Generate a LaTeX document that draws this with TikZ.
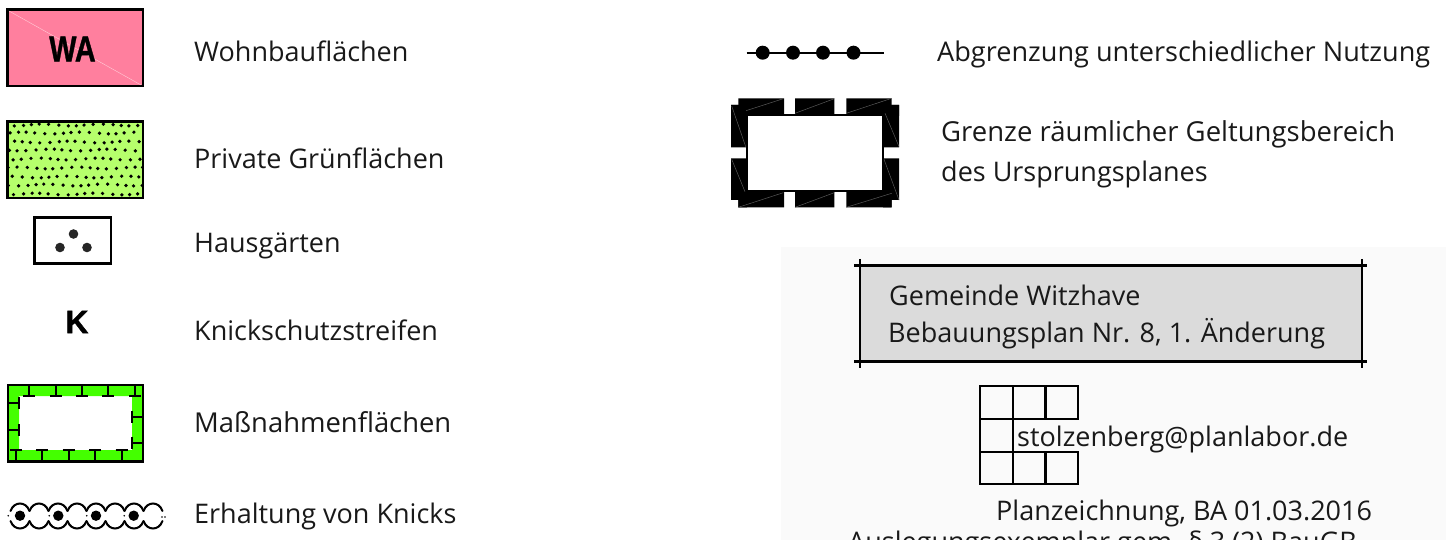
\documentclass[tikz,border=0pt]{standalone}
\usepackage{fontspec}
\setmainfont{Open Sans}
\newfontfamily\heavy{Liberation Sans}[BoldFont={* Bold},FakeBold=1.2]
\definecolor{wapink}{HTML}{FF7F9E}
\definecolor{pgreen}{HTML}{B6FF6C}
\definecolor{mgreen}{HTML}{44FF00}
\definecolor{panel}{HTML}{FAFAFA}
\definecolor{boxgray}{HTML}{DBDBDB}
\tikzset{
 lab/.style={anchor=base west,inner sep=0pt,font=\fontsize{27}{32}\selectfont,text=black!90},
 frame/.style={draw=black,line width=2.4pt},
 tickline/.style={draw=black,line width=2pt},
 seam/.style={draw=black!65,line width=0.5pt},
 blk/.style={fill=black,draw=none},
 logogrid/.style={draw=black,line width=2.2pt},
 mark letter/.style={inner sep=0pt,xscale=0.8,font=\heavy\bfseries\fontsize{36}{36}\selectfont}
}
\begin{document}
\begin{tikzpicture}[x=1pt,y=-1pt]
\useasboundingbox (0,0) rectangle (1446,540);
\clip (0,0) rectangle (1446,540);
% panel
\fill[panel] (781,247) rectangle (1446,540);
% WA
\path[frame,fill=wapink] (7.5,9.5) rectangle (143,86);
\draw[white!60!wapink,line width=0.4pt] (9,11) -- (141,85);
\node[mark letter] (wa) at (72.5,49) {WA};
% Green dotted
\fill[pgreen] (7.5,121.5) rectangle (143,198);
\begin{scope}
\clip (7.5,121.5) rectangle (143,198);
\foreach \r [count=\i] in {125,133,142,150,159,168,177,185,194}{
  \foreach \k in {0,...,15}{
    \pgfmathsetmacro{\xx}{9+\k*8.95+mod(\i,2)*4.5+1.2*sin(\k*70+\i*40)}
    \pgfmathsetmacro{\yy}{\r+0.9*sin(\k*55+\i*95)}
    \fill (\xx,\yy) circle (1.85);
  }
}
\end{scope}
\draw[frame] (7.5,121.5) rectangle (143,198);
% Hausgaerten
\draw[draw=black,line width=2.2pt] (34.5,217.5) rectangle (111,263.5);
\fill[black!85] (60,247.5) circle (4.8) (73.5,234) circle (4.8) (87,247.5) circle (4.8);
% K
\node[mark letter,xscale=1.1,yscale=0.9] (k) at (77,322) {K};
% Massnahmen
\fill[mgreen,even odd rule] (8,385) rectangle (143,461.5) (19,396) rectangle (132,450);
\draw[frame] (8,385) rectangle (143,461.5);
\foreach \x in {29,56,82,108,135}{
  \draw[tickline] (\x,385) -- (\x,396) (\x-6,396) -- (\x+6,396);}
\foreach \x in {15.7,42,68.7,95,121.7}{
  \draw[tickline] (\x,461) -- (\x,450) (\x-6,450) -- (\x+6,450);}
\foreach \y in {403,430}{
  \draw[tickline] (8,\y) -- (19,\y) (19,\y-6) -- (19,\y+6);}
\foreach \y in {416.7,442.7}{
  \draw[tickline] (143,\y) -- (132,\y) (132,\y-6) -- (132,\y+6);}
% Knick
\foreach \x in {20,39,58,77,96,115,134,153}{
  \draw[line width=2pt,line cap=round] (\x-9.5,511) .. controls (\x-6,501) and (\x+6,501) .. (\x+9.5,511);
  \draw[line width=2pt,line cap=round] (\x-9.5,521) .. controls (\x-6,531) and (\x+6,531) .. (\x+9.5,521);
}
\fill (20,515.7) circle (5.2) (58.3,515.7) circle (5.2) (96,515.7) circle (5.2) (133.7,515.7) circle (5.2);
\fill (8.3,515.7) circle (0.9) (49.3,515.7) circle (0.9) (86.7,515.7) circle (0.9) (124.3,515.7) circle (0.9) (162,517) circle (0.9) (165,517) circle (0.9);
% left labels
\node[lab] (l1) at (194,62) {Wohnbauflächen};
\node[lab] (l2) at (194,169) {Private Grünflächen};
\node[lab] (l3) at (194,252) {Hausgärten};
\node[lab] (l4) at (194,340) {Knickschutzstreifen};
\node[lab,font=\fontsize{27.4}{32}\selectfont] (l5) at (194,432) {Maßnahmenflächen};
\node[lab] (l6) at (194,523) {Erhaltung von Knicks};
% dotted line
\draw[line width=2pt] (746.7,52.7) -- (884,52.7);
\fill (762.7,52.7) circle (7) (793,52.7) circle (7) (823,52.7) circle (7) (853.5,52.7) circle (7);
% boundary
\fill[blk] (738.3,98.3) rectangle (784,114) (795,98.3) rectangle (834.3,114) (846.3,98.3) rectangle (891.7,114);
\fill[blk] (738.3,192) rectangle (784,207.3) (795,192) rectangle (834.3,207.3) (846.3,192) rectangle (891.7,207.3);
\fill[blk] (731,105) rectangle (746,147.3) (731,158.3) rectangle (746,200);
\fill[blk] (883.3,105) rectangle (899,147.3) (883.3,158.3) rectangle (899,200);
\fill[blk] (731,105) rectangle (746.5,116) (883,105) rectangle (899,116);
\fill[blk] (738.3,190) rectangle (747,207.3) (883,190) rectangle (891.7,207.3);
\draw[draw=black,line width=2pt] (747,115) rectangle (882.7,191.5);
\draw[seam] (746,110.7) -- (783.3,98.7) (795,113.3) -- (834.3,98.7) (846.3,113.3) -- (891.7,98.3);
\draw[seam] (738.3,207.3) -- (783.3,192.7) (795,207.3) -- (834.3,192.7) (846.3,207.3) -- (891.7,193.3);
\draw[seam] (731.7,106) -- (745.7,146.7) (731.7,159.3) -- (745,191.7);
\draw[seam] (885,113.3) -- (899,146.7) (884,159.3) -- (899,200);
\node[lab,font=\fontsize{27.1}{32}\selectfont] (r1) at (937,62) {Abgrenzung unterschiedlicher Nutzung};
\node[lab,font=\fontsize{27.5}{32}\selectfont] (r2) at (941,142) {Grenze räumlicher Geltungsbereich};
\node[lab] (r3) at (941,182) {des Ursprungsplanes};
% title box
\fill[boxgray] (860,265.5) rectangle (1362,361.5);
\draw[line width=2.4pt] (854,265.5) -- (1367,265.5) (854,361.5) -- (1367,361.5) (860,259) -- (860,368) (1362,259) -- (1362,368);
\node[lab] (t1) at (889,305) {Gemeinde Witzhave};
\node[lab] (t2) at (888,342) {Bebauungsplan Nr. 8, 1. Änderung};
% grid logo
\draw[logogrid] (979.7,386) rectangle (1078,419) (979.7,451.7) rectangle (1078,484.3);
\draw[logogrid] (979.7,386) -- (979.7,484.3) (1012.8,386) -- (1012.8,484.3) (1045.5,386) -- (1045.5,419) (1045.5,451.7) -- (1045.5,484.3);
\node[lab] (t3) at (1017,446) {stolzenberg@planlabor.de};
\node[lab] (t4) at (996,520) {Planzeichnung, BA 01.03.2016};
\node[lab] (t5) at (848,551) {Auslegungsexemplar gem. § 3 (2) BauGB};
\end{tikzpicture}
\end{document}
